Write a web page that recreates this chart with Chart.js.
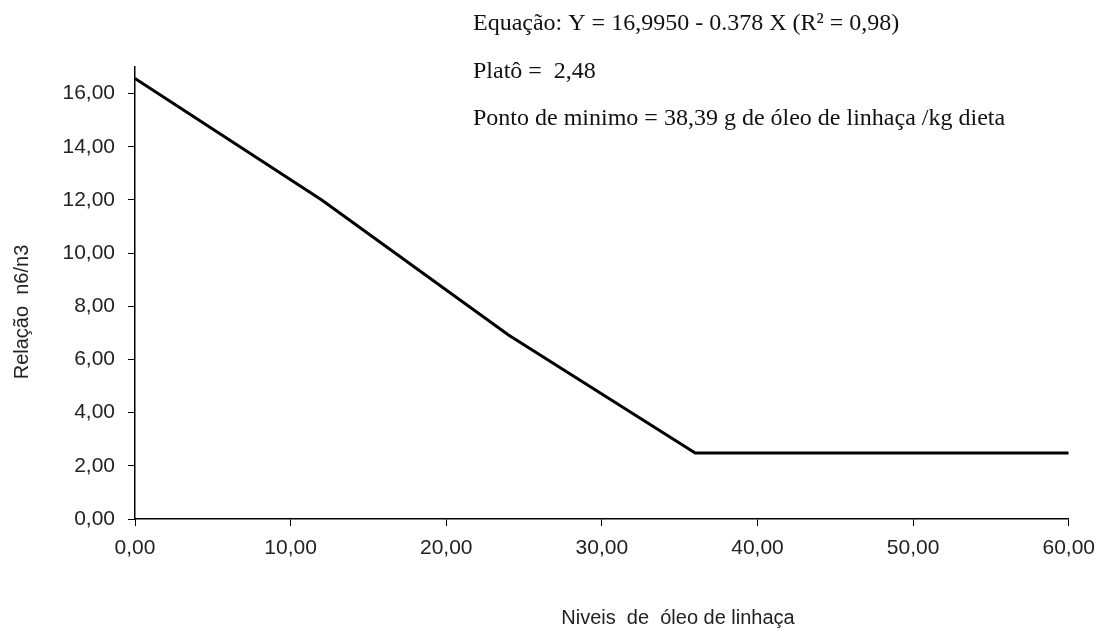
<!DOCTYPE html>
<html>
<head>
<meta charset="utf-8">
<script src="https://cdn.jsdelivr.net/npm/chart.js@4"></script>
<style>
   body { margin: 0; background: #fff; }
   #wrap { width: 1105px; height: 635px; position: relative; }
</style>
</head>
<body>
<div id="wrap"><canvas id="chart"></canvas></div>
<script>
// Niveis de óleo de linhaça (g/kg) e relação n6/n3
const niveis = [0, 12, 24, 36, 48, 60];
const relacao = [16.57, 12.0, 6.92, 2.48, 2.48, 2.48];
const yTicks = [0, 2, 4, 6, 8, 10, 12, 14, 16];
const xTicks = [0, 10, 20, 30, 40, 50, 60];
const anotacoes = [
   "Equação: Y = 16,9950 - 0.378 X (R² = 0,98)",
   "Platô =  2,48",
   "Ponto de minimo = 38,39 g de óleo de linhaça /kg dieta",
];
const tituloX = "Niveis  de  óleo de linhaça";
const tituloY = "Relação  n6/n3";

function virgula(v) {
   return Number(v).toFixed(2).replace(".", ",");
}

// textos: equação no alto e títulos dos eixos (deslocados como no Excel)
const textoPlugin = {
   id: "texto",
   afterDraw(chart) {
      const ctx = chart.ctx;
      ctx.save();
      ctx.fillStyle = "#111";
      ctx.font = "24px 'Liberation Serif', 'Times New Roman', serif";
      ctx.textBaseline = "alphabetic";
      ctx.textAlign = "left";
      const linhas = [30, 78, 125];
      anotacoes.forEach((t, i) => ctx.fillText(t, 473, linhas[i]));

      ctx.fillStyle = "#222";
      ctx.font = "20px 'Liberation Sans', Arial, sans-serif";
      ctx.textAlign = "center";
      ctx.textBaseline = "middle";
      ctx.fillText(tituloX, 678, 618);
      ctx.translate(22, 312);
      ctx.rotate(-Math.PI / 2);
      ctx.fillText(tituloY, 0, 0);
      ctx.restore();
   },
};

const ctx = document.getElementById("chart");
new Chart(ctx, {
   type: "line",
   data: {
      datasets: [
         {
            data: niveis.map((x, i) => ({ x: x, y: relacao[i] })),
            borderColor: "#000",
            borderWidth: 3,
            pointRadius: 0,
            tension: 0,
            fill: false,
         },
      ],
   },
   options: {
      responsive: true,
      maintainAspectRatio: false,
      animation: false,
      layout: {
         padding: { top: 67, right: 35, left: 0, bottom: 0 },
      },
      scales: {
         x: {
            type: "linear",
            min: 0,
            max: 60,
            afterFit(scale) {
               scale.height = 116;
            },
            afterBuildTicks(scale) {
               scale.ticks = xTicks.map((v) => ({ value: v }));
            },
            ticks: {
               color: "#222",
               font: { family: "'Liberation Sans', Arial, sans-serif", size: 21 },
               padding: 10,
               maxRotation: 0,
               callback: (v) => virgula(v),
            },
            grid: {
               drawOnChartArea: false,
               color: "#000",
               tickLength: 7,
            },
            border: { color: "#000", width: 1.5 },
         },
         y: {
            type: "linear",
            min: 0,
            max: 17,
            afterFit(scale) {
               scale.width = 135;
            },
            afterBuildTicks(scale) {
               scale.ticks = yTicks.map((v) => ({ value: v }));
            },
            ticks: {
               color: "#222",
               font: { family: "'Liberation Sans', Arial, sans-serif", size: 21 },
               padding: 13,
               callback: (v) => virgula(v),
            },
            grid: {
               drawOnChartArea: false,
               color: "#000",
               tickLength: 7,
            },
            border: { color: "#000", width: 1.5 },
         },
      },
      plugins: {
         legend: { display: false },
         tooltip: { enabled: false },
      },
   },
   plugins: [textoPlugin],
});
</script>
</body>
</html>
